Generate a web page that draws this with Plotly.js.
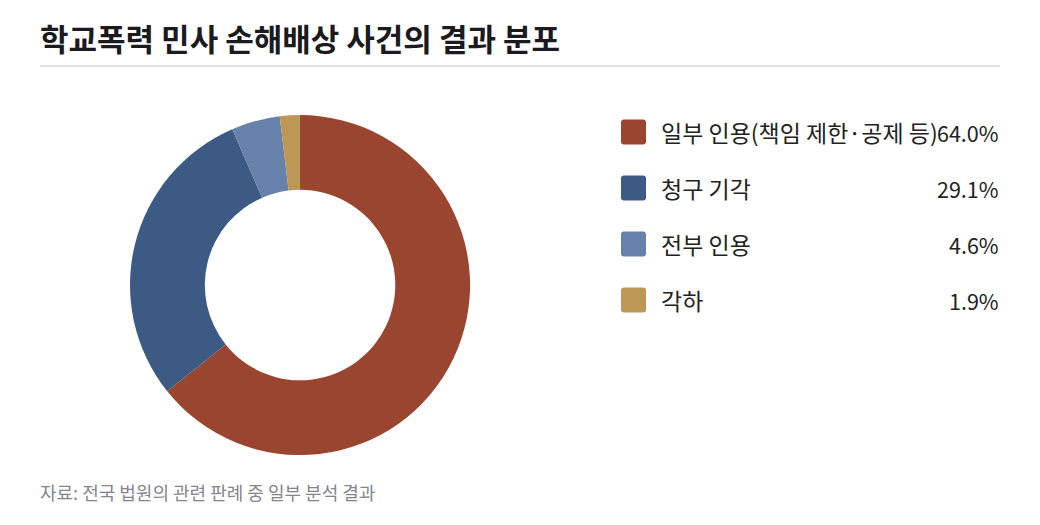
<!DOCTYPE html>
<html>
<head>
<meta charset="utf-8">
<script src="https://cdn.plot.ly/plotly-3.0.1.min.js"></script>
<style>
  html, body { margin: 0; padding: 0; background: #fff; }
  #chart { width: 1040px; height: 525px; }
</style>
</head>
<body>
<div id="chart"></div>
<script>
var labels = ["일부 인용(책임 제한·공제 등)", "청구 기각", "전부 인용", "각하"];
var values = [64.0, 29.1, 4.6, 1.9];
var colors = ["#9a452f", "#3c5a84", "#6782aa", "#bd9756"];
var pctText = ["64.0%", "29.1%", "4.6%", "1.9%"];

var font = '"Noto Sans CJK KR", "Noto Sans", sans-serif';

var data = [{
    type: 'pie',
    labels: labels,
    values: values,
    marker: { colors: colors, line: { width: 0 } },
    hole: 0.56,
    sort: false,
    direction: 'clockwise',
    rotation: 0,
    textinfo: 'none',
    hoverinfo: 'label+percent',
    domain: { x: [0.125, 0.452], y: [0.133, 0.781] },
    showlegend: false
}];

// legend built from the arrays
var shapes = [{
    type: 'line', xref: 'x', yref: 'y',
    x0: 40, x1: 1000, y0: 66, y1: 66,
    line: { color: '#e2e2e6', width: 2 }
}];
var annotations = [];

for (var i = 0; i < labels.length; i++) {
    var cy = 132 + 56 * i;
    var x0 = 621, x1 = 646, y0 = cy - 12.5, y1 = cy + 12.5, r = 3;
    shapes.push({
        type: 'path', xref: 'x', yref: 'y',
        path: 'M' + (x0 + r) + ',' + y0 + ' L' + (x1 - r) + ',' + y0 +
              ' Q' + x1 + ',' + y0 + ' ' + x1 + ',' + (y0 + r) +
              ' L' + x1 + ',' + (y1 - r) +
              ' Q' + x1 + ',' + y1 + ' ' + (x1 - r) + ',' + y1 +
              ' L' + (x0 + r) + ',' + y1 +
              ' Q' + x0 + ',' + y1 + ' ' + x0 + ',' + (y1 - r) +
              ' L' + x0 + ',' + (y0 + r) +
              ' Q' + x0 + ',' + y0 + ' ' + (x0 + r) + ',' + y0 + ' Z',
        fillcolor: colors[i],
        line: { width: 0 }
    });
    annotations.push({
        xref: 'x', yref: 'y', x: 659, y: cy,
        text: labels[i], showarrow: false,
        xanchor: 'left', yanchor: 'middle',
        font: { family: font, size: 23, color: '#222222' }
    });
    annotations.push({
        xref: 'x', yref: 'y', x: 1001, y: cy,
        text: pctText[i], showarrow: false,
        xanchor: 'right', yanchor: 'middle',
        bgcolor: 'rgba(0,0,0,0)',
        font: { family: font, size: 21.5, color: '#222222' }
    });
}

annotations.push({
    xref: 'x', yref: 'y', x: 38, y: 37,
    text: '<b>학교폭력 민사 손해배상 사건의 결과 분포</b>', showarrow: false,
    xanchor: 'left', yanchor: 'middle',
    font: { family: font, size: 31, color: '#1a1a1f' }
});
annotations.push({
    xref: 'x', yref: 'y', x: 38, y: 492,
    text: '자료: 전국 법원의 관련 판례 중 일부 분석 결과', showarrow: false,
    xanchor: 'left', yanchor: 'middle',
    font: { family: font, size: 18, color: '#85858c' }
});

var layout = {
    width: 1040,
    height: 525,
    margin: { l: 0, r: 0, t: 0, b: 0 },
    paper_bgcolor: '#ffffff',
    plot_bgcolor: 'rgba(0,0,0,0)',
    xaxis: { range: [0, 1040], visible: false, fixedrange: true },
    yaxis: { range: [525, 0], visible: false, fixedrange: true },
    shapes: shapes,
    annotations: annotations,
    showlegend: false
};

Plotly.newPlot('chart', data, layout, { displayModeBar: false, staticPlot: true });
</script>
</body>
</html>
